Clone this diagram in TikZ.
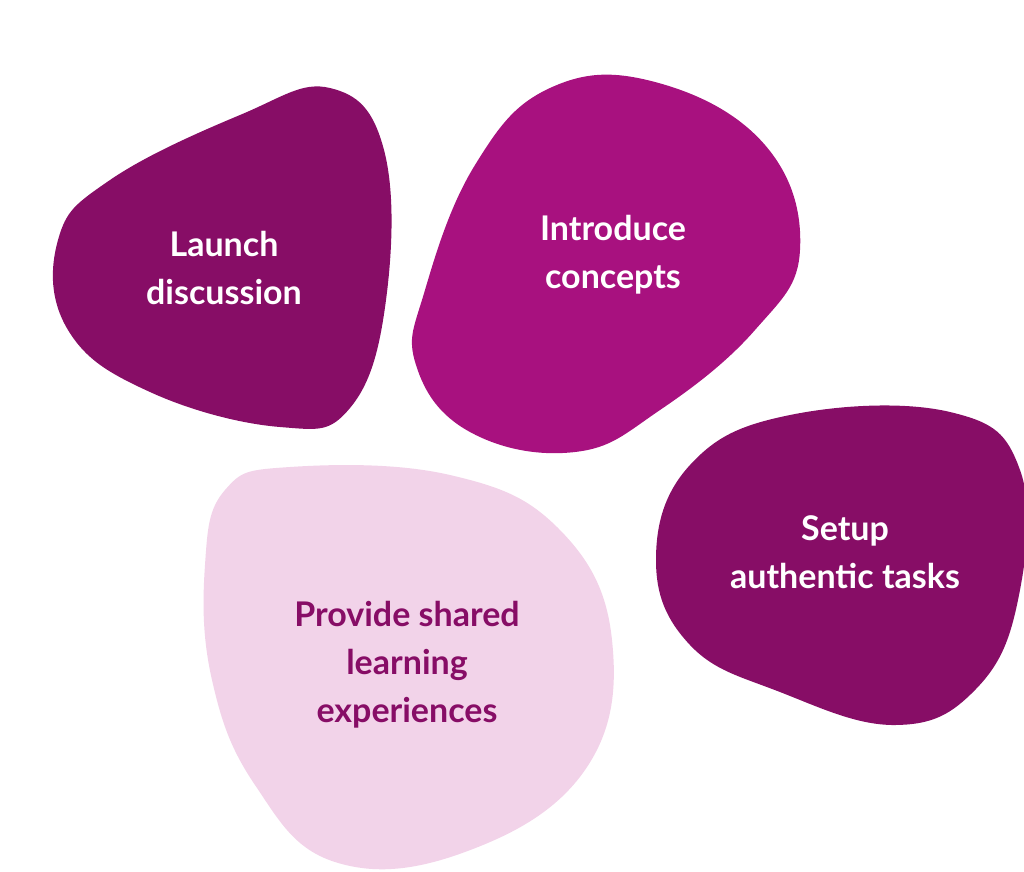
\documentclass[tikz,border=0pt]{standalone}
\usepackage{fontspec}
\setmainfont{Lato}
\definecolor{plumdark}{HTML}{870D66}
\definecolor{magent}{HTML}{A8117F}
\definecolor{pinklight}{HTML}{F2D3E9}
\begin{document}
\begin{tikzpicture}[x=1pt,y=-1pt,
    blob/.style={draw=none},
    label/.style={font=\fontsize{34}{48}\selectfont\bfseries,align=center,text=white}
]
\useasboundingbox (0,0) rectangle (1024,871);

% Blobs
\fill[plumdark] plot[smooth cycle,tension=0.7] coordinates {(58,240) (110,180) (240,115) (330,88) (384,150) (386,300) (350,408) (280,427) (150,392) (68,330)};
\fill[magent] plot[smooth cycle,tension=0.7] coordinates {(425,290) (475,165) (550,88) (655,82) (765,145) (800,250) (755,330) (660,410) (575,452) (470,432) (416,365)};
\fill[plumdark] plot[smooth cycle,tension=0.7] coordinates {(656,560) (690,465) (790,415) (950,412) (1020,470) (1018,600) (975,690) (895,725) (780,692) (690,645)};
\fill[pinklight] plot[smooth cycle,tension=0.7] coordinates {(205,565) (225,490) (290,467) (450,475) (560,530) (612,640) (585,770) (465,852) (335,862) (255,785) (212,680)};

% Labels
\node[label] (launch) at (224,268) {Launch\\discussion};
\node[label] (intro) at (613,255) {Introduce\\concepts};
\node[label] (setup) at (845,552) {Setup\\authentic tasks};
\node[label,text=plumdark] (shared) at (407,665) {Provide shared\\learning\\experiences};
\end{tikzpicture}
\end{document}
